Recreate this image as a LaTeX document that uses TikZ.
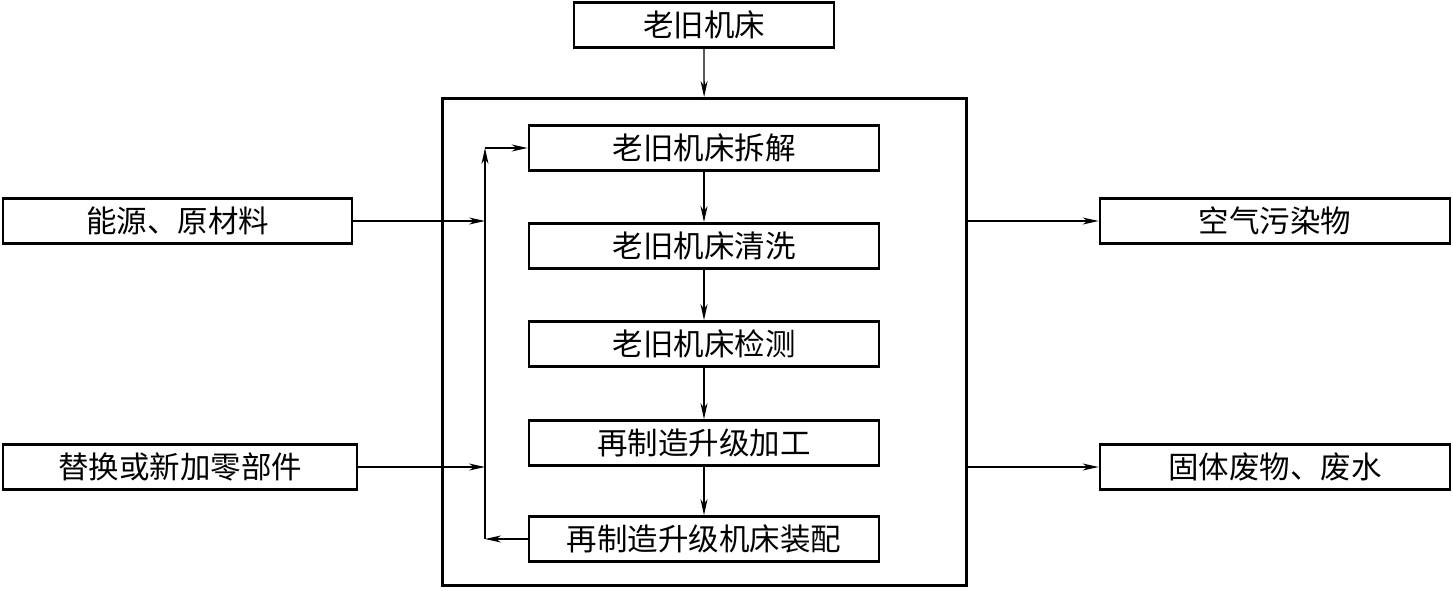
\documentclass[tikz,border=0pt]{standalone}
\usepackage{fontspec}
\setmainfont{Noto Sans CJK SC}
\usetikzlibrary{arrows.meta, positioning}

\begin{document}
\begin{tikzpicture}[x=1pt, y=-1pt,
  box/.style={draw, line width=2.8pt, minimum height=45pt, inner sep=0pt, font=\fontsize{30.5}{31}\selectfont},
  link/.style={line width=1.3pt, -{Stealth[length=16pt, width=7pt, inset=5pt]}}]
\useasboundingbox (0,0) rectangle (1453,590);

\node [box, minimum width=260pt] (old) at (704,25) {老旧机床};
\node [draw, line width=3pt, minimum width=524pt, minimum height=487pt] (frame) at (704.5,342) {};

\node [box, minimum width=350pt] (disasm) at (704,148) {老旧机床拆解};
\node [box, minimum width=350pt] (clean) at (704,246) {老旧机床清洗};
\node [box, minimum width=350pt] (check) at (704,344) {老旧机床检测};
\node [box, minimum width=350pt] (machining) at (704,443) {再制造升级加工};
\node [box, minimum width=350pt] (assemble) at (704,539) {再制造升级机床装配};

\node [box, minimum width=349pt] (energy) at (177.5,221) {能源、原材料};
\node [box, minimum width=354pt] (parts) at (180,467) {替换或新加零部件};
\node [box, minimum width=350pt] (air) at (1275,221) {空气污染物};
\node [box, minimum width=350pt] (waste) at (1275,467) {固体废物、废水};

\coordinate (bus) at (485,0);

\draw [link] (old) -- (frame);
\draw [link] (disasm) -- (clean);
\draw [link] (clean) -- (check);
\draw [link] (check) -- (machining);
\draw [link] (machining) -- (assemble);

% return loop
\draw [link] (assemble.west) -- (assemble.west -| bus);
\draw [link] (assemble.west -| bus) -- (disasm.west -| bus);
\draw [link] (disasm.west -| bus) -- (disasm.west);

\draw [link] (energy) -- (energy.east -| bus);
\draw [link] (parts) -- (parts.east -| bus);
\draw [link] (air.west -| frame.east) -- (air);
\draw [link] (waste.west -| frame.east) -- (waste);
\end{tikzpicture}
\end{document}
